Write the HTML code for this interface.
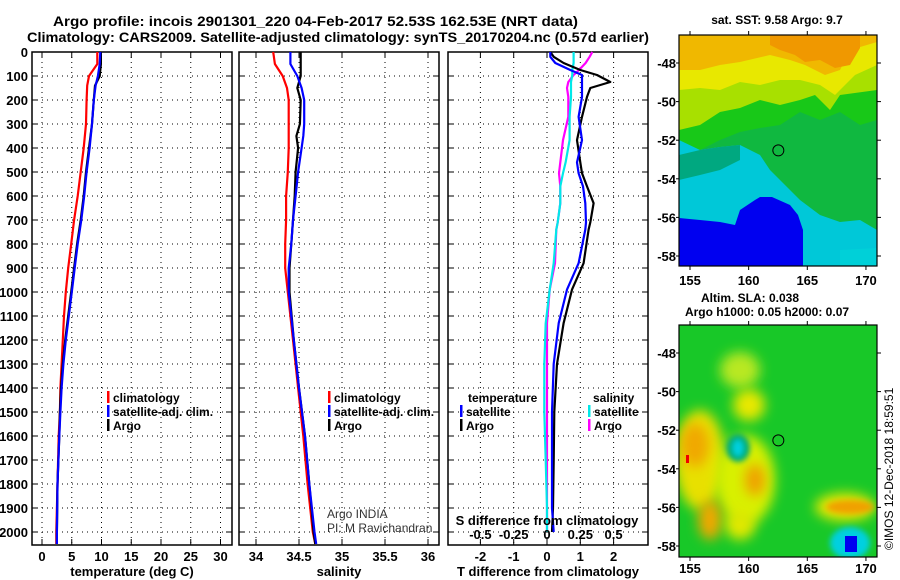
<!DOCTYPE html>
<html><head><meta charset="utf-8">
<style>
body{margin:0;background:#fff;}
svg{display:block;font-family:"Liberation Sans",sans-serif;font-weight:bold;}
</style></head><body>
<svg id="c" width="900" height="580" viewBox="0 0 900 580" xmlns="http://www.w3.org/2000/svg">
<defs>
<filter id="bl" x="-50%" y="-50%" width="200%" height="200%"><feGaussianBlur stdDeviation="6"/></filter>
<filter id="bl2" x="-50%" y="-50%" width="200%" height="200%"><feGaussianBlur stdDeviation="3"/></filter>
<clipPath id="m1c"><rect x="679" y="35" width="198" height="231"/></clipPath>
<clipPath id="m2c"><rect x="679" y="325" width="198" height="232"/></clipPath>
</defs>
<text x="53" y="26" font-size="14" textLength="525" lengthAdjust="spacingAndGlyphs">Argo profile: incois 2901301_220 04-Feb-2017 52.53S 162.53E (NRT data)</text>
<text x="27" y="42" font-size="14" textLength="622" lengthAdjust="spacingAndGlyphs">Climatology: CARS2009. Satellite-adjusted climatology: synTS_20170204.nc (0.57d earlier)</text>
<g id="g"></g>
</svg>
<script>
// ---- data ----
const depthT = [0,50,100,140,200,300,400,500,600,700,800,900,1000,1100,1200,1300,1400,1500,1600,1800,2000,2050];
const tempArgo = [9.9,9.9,9.7,8.9,8.7,8.4,7.9,7.4,7.0,6.5,5.9,5.4,4.9,4.4,3.9,3.5,3.2,3.0,2.9,2.6,2.5,2.5];
const tempSat  = [9.8,9.7,9.4,9.0,8.7,8.4,8.0,7.5,7.1,6.6,6.0,5.5,5.0,4.5,4.0,3.6,3.3,3.1,2.9,2.6,2.5,2.5];
const tempClim = [9.3,9.3,7.9,7.6,7.5,7.4,7.0,6.5,6.0,5.4,4.9,4.4,4.0,3.7,3.5,3.3,3.1,3.0,2.8,2.6,2.4,2.4];
const depthS = [0,50,100,150,200,300,350,400,500,600,700,800,900,1000,1200,1400,1600,1800,2000,2050];
const salClim = [34.2,34.22,34.31,34.36,34.38,34.38,34.38,34.38,34.37,34.35,34.35,34.34,34.34,34.37,34.43,34.49,34.55,34.6,34.66,34.69];
const salSat  = [34.40,34.40,34.48,34.53,34.56,34.56,34.55,34.53,34.49,34.46,34.43,34.41,34.38,34.38,34.44,34.5,34.57,34.62,34.68,34.7];
const salArgo = [34.52,34.52,34.52,34.48,34.52,34.51,34.47,34.49,34.46,34.45,34.43,34.41,34.39,34.39,34.44,34.5,34.57,34.62,34.67,34.69];
const depthD = [0,20,46,75,96,125,150,187,270,367,460,505,560,630,710,740,880,990,1130,1300,1500,1700,1900,2000];
const dTArgo = [0.1,0.2,0.5,1.0,1.5,1.9,1.3,1.2,1.05,0.9,1.0,1.05,1.2,1.4,1.3,1.25,1.1,0.75,0.5,0.3,0.22,0.2,0.18,0.15];
const dTSat  = [0.1,0.1,0.25,0.7,1.05,1.05,1.05,1.05,0.95,1.05,0.9,0.95,1.08,1.15,1.17,1.15,0.95,0.6,0.35,0.2,0.15,0.15,0.15,0.2];
const dSArgo = [0.34,0.32,0.29,0.24,0.2,0.16,0.15,0.16,0.16,0.12,0.1,0.09,0.1,0.1,0.08,0.07,0.06,0.02,0.0,0.0,0.0,0.0,0.0,0.0];
const dSSat  = [0.2,0.2,0.2,0.19,0.19,0.18,0.18,0.18,0.17,0.17,0.14,0.12,0.1,0.1,0.08,0.07,0.05,0.02,-0.01,-0.02,-0.02,-0.01,0.0,0.0];
const depthTicks = [0,100,200,300,400,500,600,700,800,900,1000,1100,1200,1300,1400,1500,1600,1700,1800,1900,2000];
const tTicks = [0,5,10,15,20,25,30];
const sTicks = [34,34.5,35,35.5,36];
const sTickLabels = ["34","34.5","35","35.5","36"];
const dTTicks = [-2,-1,0,1,2];
const dSTicks = [-0.5,-0.25,0,0.25,0.5];
const dSTickLabels = ["-0.5","-0.25","0","0.25","0.5"];
const lonTicks = [155,160,165,170];
const latTicks = [-48,-50,-52,-54,-56,-58];
const argoLon = 162.53, argoLat = -52.53;

// ---- axes ----
const yD = d => 52 + d*0.24;
const xT = t => 42 + t*5.95;
const xS = s => 256 + (s-34)*86;
const xDT = t => 547 + t*33.3;
const xDS = s => 547 + s*133.2;
const xLon = l => 690 + (l-155)*11.73;
const yLat1 = l => 63 + (-48-l)*19.3;
const yLat2 = l => 353 + (-48-l)*19.3;

const NS="http://www.w3.org/2000/svg";
const G=document.getElementById('g');
function mk(tag,attrs,parent){const e=document.createElementNS(NS,tag);for(const k in attrs)e.setAttribute(k,attrs[k]);(parent||G).appendChild(e);return e;}
function txt(x,y,s,size,anchor,parent){const e=mk('text',{x:x,y:y,'font-size':size,'text-anchor':anchor||'start'},parent);e.textContent=s;return e;}

const panels=[{x0:32,x1:232,xt:tTicks.map(xT),lab:tTicks.map(String),title:"temperature (deg C)",name:"temperature-panel"},
{x0:239,x1:439,xt:sTicks.map(xS),lab:sTickLabels,title:"salinity",name:"salinity-panel"},
{x0:448,x1:648,xt:dTTicks.map(xDT),lab:dTTicks.map(String),title:"T difference from climatology",name:"difference-panel"}];
panels.forEach(p=>{
  const g=mk('g',{});
  
  
  depthTicks.forEach(d=>{mk('line',{x1:p.x0,x2:p.x1,y1:yD(d),y2:yD(d),stroke:'#000','stroke-dasharray':'1 4'},g);
    mk('line',{x1:p.x0,x2:p.x0+6,y1:yD(d),y2:yD(d),stroke:'#000'},g);mk('line',{x1:p.x1-6,x2:p.x1,y1:yD(d),y2:yD(d),stroke:'#000'},g);});
  p.xt.forEach((x,i)=>{mk('line',{x1:x,x2:x,y1:52,y2:545,stroke:'#000','stroke-dasharray':'1 4'},g);
    mk('line',{x1:x,x2:x,y1:539,y2:545,stroke:'#000'},g);mk('line',{x1:x,x2:x,y1:52,y2:58,stroke:'#000'},g);
    const t=txt(x,561,p.lab[i],13,'middle',g);});
  mk('rect',{x:p.x0,y:52,width:p.x1-p.x0,height:493,fill:'none',stroke:'#000','stroke-width':1.5},g);
  const t=txt((p.x0+p.x1)/2,576,p.title,13,'middle',g);
});
depthTicks.forEach(d=>{const t=txt(28,yD(d)+5,String(d),13,'end');});

function line(xs,ys,fx,color,name,w){
  const pts=xs.map((v,i)=>fx(v).toFixed(1)+','+yD(ys[i]).toFixed(1)).join(' ');
  const e=mk('polyline',{points:pts,fill:'none',stroke:color,'stroke-width':w||2.2,'stroke-linejoin':'round'});
  
  
}
line(tempClim,depthT,xT,'#ff0000','temp-climatology-line');
line(tempArgo,depthT,xT,'#000','temp-argo-line');
line(tempSat,depthT,xT,'#0000ff','temp-satellite-line');
line(salClim,depthS,xS,'#ff0000','sal-climatology-line');
line(salArgo,depthS,xS,'#000','sal-argo-line');
line(salSat,depthS,xS,'#0000ff','sal-satellite-line');
line(dSArgo,depthD,xDS,'#ff00ff','dS-argo-line');
line(dSSat,depthD,xDS,'#00e8e8','dS-satellite-line');
line(dTArgo,depthD,xDT,'#000','dT-argo-line');
line(dTSat,depthD,xDT,'#0000ff','dT-satellite-line');

dSTicks.forEach((s,i)=>{const t=txt(xDS(s),539,dSTickLabels[i],13,'middle');});
{const t=txt(547,525,'S difference from climatology',13,'middle');}

function leg(x,y,color,label,name){const g=mk('g',{});
  mk('rect',{x:x,y:y-11,width:2.5,height:12,fill:color},g);txt(x+6,y,label,12,'start',g);}
leg(107,402,'#ff0000','climatology','legend-climatology');
leg(107,416,'#0000ff','satellite-adj. clim.','legend-satellite-adj');
leg(107,430,'#000','Argo','legend-argo');
leg(328,402,'#ff0000','climatology','legend-sal-climatology');
leg(328,416,'#0000ff','satellite-adj. clim.','legend-sal-satellite-adj');
leg(328,430,'#000','Argo','legend-sal-argo');
txt(468,402,'temperature',12);txt(593,402,'salinity',12);
leg(460,416,'#0000ff','satellite','legend-t-satellite');
leg(460,430,'#000','Argo','legend-t-argo');
leg(588,416,'#00e8e8','satellite','legend-s-satellite');
leg(588,430,'#ff00ff','Argo','legend-s-argo');
{const a=mk('text',{x:327,y:518,'font-size':12,'font-weight':'normal',fill:'#333'});a.textContent='Argo INDIA';
 const b=mk('text',{x:327,y:532,'font-size':12,'font-weight':'normal',fill:'#333'});b.textContent='PI: M Ravichandran';}

// ---- maps ----
function poly(pts,fill,parent){return mk('polygon',{points:pts,fill:fill},parent);}
const m1=mk('g',{'clip-path':'url(#m1c)'});


mk('rect',{x:679,y:35,width:198,height:231,fill:'#10b840'},m1);
poly('679,35 877,35 877,120 860,125 840,112 820,120 800,112 780,125 760,128 740,132 720,140 700,150 679,148','#18c818',m1);
poly('679,35 877,35 877,90 840,95 830,110 815,95 800,100 780,105 760,100 740,108 720,112 700,125 679,130','#a8e000',m1);
poly('679,35 877,35 877,65 855,75 835,95 820,85 800,80 780,80 760,85 740,82 720,90 700,88 679,90','#e8e800',m1);
poly('679,35 877,35 877,42 850,50 840,70 825,75 805,65 790,60 770,55 740,62 720,65 700,70 679,70','#f0b800',m1);
poly('770,35 860,35 860,48 850,65 835,68 820,60 805,62 795,55 780,50 770,45','#f09800',m1);
poly('679,140 700,150 720,147 740,145 760,155 770,170 780,180 800,200 820,215 840,222 860,220 877,230 877,266 679,266','#00c8d8',m1);
poly('679,155 700,150 720,147 740,145 740,160 720,170 700,175 679,180','#00a880',m1);
poly('679,218 700,220 720,222 735,225 740,210 755,200 760,197 772,197 790,205 798,215 803,230 803,266 679,266','#0000f0',m1);
poly('840,250 877,248 877,266 840,266','#00d0d8',m1);
mk('circle',{cx:xLon(argoLon),cy:yLat1(argoLat),r:5.5,fill:'none',stroke:'#000','stroke-width':1},m1);
const m2=mk('g',{'clip-path':'url(#m2c)'});


mk('rect',{x:679,y:325,width:198,height:232,fill:'#18c828'},m2);
mk('ellipse',{cx:740,cy:370,rx:20,ry:18,fill:'#b8e820',filter:'url(#bl)'},m2);
mk('ellipse',{cx:749,cy:405,rx:16,ry:16,fill:'#e8e800',filter:'url(#bl)'},m2);
mk('ellipse',{cx:700,cy:460,rx:25,ry:50,fill:'#e8e000',filter:'url(#bl)'},m2);
mk('ellipse',{cx:695,cy:445,rx:14,ry:22,fill:'#f0a800',filter:'url(#bl)'},m2);
mk('ellipse',{cx:745,cy:480,rx:30,ry:45,fill:'#d8f000',filter:'url(#bl)'},m2);
mk('ellipse',{cx:755,cy:480,rx:10,ry:16,fill:'#f0a000',filter:'url(#bl)'},m2);
mk('ellipse',{cx:710,cy:520,rx:12,ry:20,fill:'#f0a800',filter:'url(#bl)'},m2);
mk('ellipse',{cx:740,cy:525,rx:15,ry:15,fill:'#e0e800',filter:'url(#bl)'},m2);
mk('ellipse',{cx:738,cy:448,rx:12,ry:14,fill:'#00a870',filter:'url(#bl2)'},m2);
mk('ellipse',{cx:738,cy:448,rx:6,ry:9,fill:'#00d0e0',filter:'url(#bl2)'},m2);
mk('ellipse',{cx:845,cy:507,rx:30,ry:14,fill:'#e8e800',filter:'url(#bl)'},m2);
mk('ellipse',{cx:850,cy:507,rx:24,ry:7,fill:'#f0a000',filter:'url(#bl2)'},m2);
mk('ellipse',{cx:850,cy:543,rx:20,ry:16,fill:'#00d0e0',filter:'url(#bl2)'},m2);
mk('rect',{x:845,y:536,width:12,height:16,fill:'#0000f0'},m2);
mk('rect',{x:686,y:455,width:3,height:8,fill:'#f00000'},m2);
mk('circle',{cx:xLon(argoLon),cy:yLat2(argoLat),r:5.5,fill:'none',stroke:'#000','stroke-width':1},m2);

[[35,266,yLat1,280,'sst'],[325,557,yLat2,568,'sla']].forEach(([y0,y1,fy,ly,nm])=>{
  mk('rect',{x:679,y:y0,width:198,height:y1-y0,fill:'none',stroke:'#000','stroke-width':1.2});
  lonTicks.forEach(l=>{mk('line',{x1:xLon(l),x2:xLon(l),y1:y1,y2:y1+4,stroke:'#000'});mk('line',{x1:xLon(l),x2:xLon(l),y1:y0-4,y2:y0,stroke:'#000'});
    const t=txt(xLon(l),ly+5,String(l),13,'middle');});
  latTicks.forEach(l=>{mk('line',{x1:877,x2:881,y1:fy(l),y2:fy(l),stroke:'#000'});mk('line',{x1:676,x2:679,y1:fy(l),y2:fy(l),stroke:'#000'});
    const t=txt(676,fy(l)+5,String(l),13,'end');});
});
txt(777,24,'sat. SST: 9.58 Argo: 9.7',12,'middle');
txt(750,302,'Altim. SLA: 0.038',12,'middle');
txt(767,316,'Argo h1000: 0.05 h2000: 0.07',12,'middle');
{const t=mk('text',{x:0,y:0,'font-size':12,'font-weight':'normal',transform:'translate(893,550) rotate(-90)'});t.textContent='©IMOS 12-Dec-2018 18:59:51';}
</script>
</body></html>
